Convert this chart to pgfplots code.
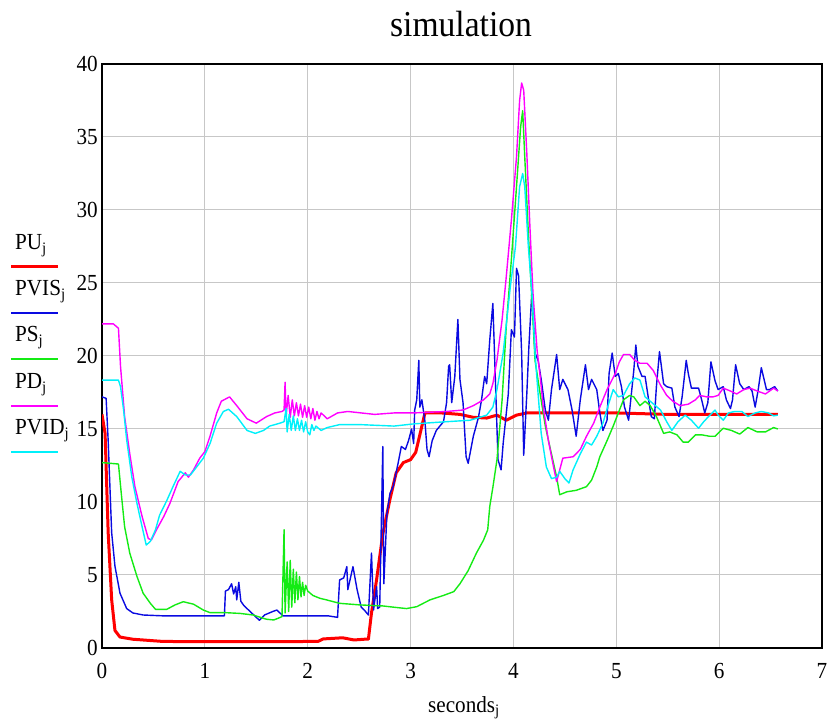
\documentclass[border=0pt]{standalone}
\usepackage{pgfplots}
\pgfplotsset{compat=1.18}
\usepackage{fontspec}
\setmainfont{Liberation Serif}[FakeStretch=0.92]
\definecolor{cPU}{RGB}{255,0,0}
\definecolor{cPVIS}{RGB}{10,10,225}
\definecolor{cPS}{RGB}{20,235,20}
\definecolor{cPD}{RGB}{255,0,255}
\definecolor{cPVID}{RGB}{0,240,250}
\newcommand{\sub}[1]{\raisebox{-3.5bp}{\fontsize{16bp}{16bp}\selectfont #1}}
\begin{document}
\begin{tikzpicture}
\useasboundingbox (0,0) rectangle (839bp,723bp);
\begin{axis}[
  at={(102bp,75bp)}, anchor=south west,
  scale only axis, width=720bp, height=584bp,
  xmin=0, xmax=7, ymin=0, ymax=40,
  xtick={0,1,...,7}, ytick={0,5,...,40},
  grid=major, major grid style={line width=1bp, draw=black!22},
  major tick length=0pt,
  axis line style={line width=1.8bp, black},
  /pgf/number format/assume math mode=true,
  tick label style={font=\fontsize{23bp}{26bp}\selectfont, inner sep=0pt},
  xticklabel style={yshift=-15bp},
  yticklabel style={xshift=-4bp},
  clip=true,
]
% PU
\addplot[cPU, line width=3bp, line join=round] coordinates {
(0,16.0) (0.03,14.7) (0.06,7.9) (0.094,3.3) (0.126,1.2) (0.175,0.75) (0.30,0.6) (0.59,0.45) (1.0,0.43) (1.5,0.43) (2.1,0.45) (2.15,0.62) (2.34,0.7) (2.45,0.55) (2.55,0.6) (2.59,0.6) (2.62,2.4) (2.67,4.7) (2.73,7.8) (2.80,10.2) (2.86,12.0) (2.93,12.7) (3.0,12.9) (3.05,13.4) (3.08,14.3) (3.11,15.2) (3.14,16.1) (3.3,16.1) (3.48,16.0) (3.61,15.8) (3.74,15.75) (3.84,15.95) (3.93,15.6) (4.03,15.95) (4.13,16.1) (5.0,16.1) (5.5,16.0) (6.0,16.0) (6.57,16.0)
};
% PVIS
\addplot[cPVIS, line width=1.4bp, line join=round] coordinates {
(0,17.2) (0.04,17.1) (0.06,14.2) (0.094,7.9) (0.126,5.6) (0.175,3.75) (0.24,2.7) (0.30,2.4) (0.40,2.26) (0.6,2.2) (1.19,2.2) (1.20,3.9) (1.23,4.0) (1.26,4.4) (1.28,3.7) (1.30,4.2) (1.31,3.3) (1.33,4.5) (1.35,3.2) (1.38,2.9) (1.44,2.5) (1.53,1.9) (1.58,2.26) (1.66,2.5) (1.70,2.6) (1.73,2.4) (1.76,2.2) (2.2,2.2) (2.29,2.1) (2.31,4.66) (2.35,4.8) (2.38,5.57) (2.39,4.0) (2.44,5.57) (2.48,4.0) (2.52,2.8) (2.55,2.6) (2.59,2.26) (2.62,6.5) (2.64,2.6) (2.67,4.2) (2.68,2.7) (2.70,2.8) (2.73,13.8) (2.74,4.4) (2.77,9.2) (2.80,10.6) (2.83,11.05) (2.85,11.7) (2.88,12.7) (2.91,13.8) (2.95,13.6) (2.98,14.2) (3.01,15.0) (3.03,14.0) (3.04,16.3) (3.06,17.0) (3.08,19.7) (3.09,16.5) (3.11,17.0) (3.14,15.5) (3.16,13.6) (3.18,13.1) (3.21,14.2) (3.25,14.9) (3.32,15.5) (3.35,16.8) (3.37,19.3) (3.38,19.4) (3.40,16.8) (3.43,18.6) (3.46,22.5) (3.48,18.4) (3.51,16.8) (3.54,13.1) (3.56,12.65) (3.61,14.5) (3.66,15.8) (3.69,17.0) (3.72,18.6) (3.74,18.1) (3.77,21.1) (3.80,23.6) (3.83,17.2) (3.85,12.9) (3.88,12.2) (3.90,14.0) (3.95,17.4) (3.98,21.8) (4.01,21.3) (4.03,26.0) (4.05,25.5) (4.08,20.2) (4.10,13.2) (4.13,17.4) (4.15,20.6) (4.18,24.5) (4.21,20.2) (4.24,19.7) (4.27,18.4) (4.31,16.3) (4.34,15.6) (4.37,17.7) (4.42,20.1) (4.45,17.7) (4.48,18.4) (4.53,17.7) (4.57,16.3) (4.61,14.5) (4.65,17.0) (4.70,19.4) (4.73,17.7) (4.76,18.4) (4.81,17.7) (4.84,16.1) (4.87,14.9) (4.91,15.6) (4.93,18.8) (4.96,20.2) (4.99,18.6) (5.02,18.8) (5.05,17.9) (5.08,16.5) (5.12,15.6) (5.17,19.0) (5.19,20.75) (5.21,19.3) (5.25,18.6) (5.28,18.6) (5.31,17.2) (5.34,15.85) (5.37,15.7) (5.39,17.9) (5.42,20.3) (5.46,18.1) (5.49,17.9) (5.54,17.8) (5.57,16.5) (5.61,15.85) (5.64,17.2) (5.68,19.7) (5.70,18.8) (5.73,17.8) (5.80,17.8) (5.83,17.0) (5.86,16.1) (5.89,16.8) (5.92,19.6) (5.96,18.3) (5.99,17.7) (6.04,17.9) (6.07,17.0) (6.11,16.4) (6.13,17.0) (6.16,19.4) (6.20,18.1) (6.24,17.7) (6.29,17.9) (6.32,17.6) (6.35,16.5) (6.38,17.7) (6.41,19.2) (6.46,17.7) (6.49,17.7) (6.54,17.9) (6.57,17.6)
};
% PS
\addplot[cPS, line width=1.4bp, line join=round] coordinates {
(0,12.7) (0.16,12.6) (0.19,10.4) (0.22,8.3) (0.27,6.5) (0.34,4.9) (0.40,3.75) (0.47,3.06) (0.52,2.65) (0.63,2.65) (0.71,2.95) (0.79,3.17) (0.89,3.0) (0.985,2.6) (1.05,2.42) (1.20,2.42) (1.34,2.37) (1.47,2.26) (1.57,2.03) (1.60,1.97) (1.67,1.92) (1.71,2.03) (1.75,2.15) (1.77,8.1) (1.78,2.4) (1.80,5.9) (1.815,2.5) (1.83,6.0) (1.845,2.8) (1.86,5.4) (1.875,3.1) (1.89,5.2) (1.905,3.3) (1.92,4.9) (1.935,3.5) (1.95,4.5) (1.965,3.6) (1.98,4.3) (2.0,3.9) (2.05,3.6) (2.12,3.4) (2.18,3.3) (2.31,3.06) (2.51,2.95) (2.73,2.88) (2.83,2.8) (2.96,2.7) (3.06,2.83) (3.19,3.3) (3.32,3.6) (3.42,3.86) (3.48,4.4) (3.56,5.3) (3.64,6.5) (3.71,7.4) (3.75,8.1) (3.77,9.7) (3.80,11.0) (3.84,12.9) (3.89,17.0) (3.93,22.0) (3.98,26.6) (4.03,31.6) (4.07,35.7) (4.09,36.8) (4.11,33.65) (4.145,28.4) (4.18,23.8) (4.21,19.7) (4.26,17.4) (4.31,15.2) (4.36,13.6) (4.42,11.7) (4.45,10.5) (4.52,10.7) (4.61,10.8) (4.71,11.05) (4.76,11.5) (4.81,12.4) (4.84,13.1) (4.91,14.2) (4.97,15.2) (5.02,16.1) (5.07,17.0) (5.13,17.3) (5.17,17.2) (5.23,16.6) (5.28,16.9) (5.33,16.6) (5.39,15.85) (5.46,14.7) (5.52,14.8) (5.59,14.6) (5.65,14.1) (5.70,14.1) (5.77,14.6) (5.83,14.6) (5.91,14.5) (5.96,14.5) (6.04,15.05) (6.12,14.9) (6.20,14.65) (6.28,15.1) (6.37,14.8) (6.45,14.8) (6.53,15.1) (6.57,15.0)
};
% PD
\addplot[cPD, line width=1.4bp, line join=round] coordinates {
(0,22.2) (0.11,22.2) (0.16,21.9) (0.18,19.3) (0.22,15.85) (0.27,13.3) (0.32,11.05) (0.39,9.0) (0.45,7.5) (0.48,7.4) (0.53,8.1) (0.60,9.0) (0.66,9.9) (0.74,11.4) (0.81,12.0) (0.84,11.7) (0.89,12.2) (0.95,13.0) (1.0,13.45) (1.05,14.5) (1.115,16.1) (1.16,16.9) (1.24,17.2) (1.31,16.6) (1.41,15.7) (1.50,15.4) (1.60,15.85) (1.68,16.1) (1.75,16.2) (1.77,16.3) (1.78,18.2) (1.79,15.9) (1.81,17.3) (1.83,15.8) (1.85,17.0) (1.87,15.9) (1.89,16.8) (1.91,15.9) (1.93,16.7) (1.95,15.8) (1.97,16.6) (1.99,15.8) (2.01,16.5) (2.03,15.7) (2.05,16.4) (2.07,15.6) (2.09,16.2) (2.11,15.7) (2.13,16.1) (2.19,15.7) (2.29,16.1) (2.39,16.2) (2.52,16.1) (2.65,16.0) (2.84,16.1) (3.03,16.1) (3.35,16.2) (3.51,16.3) (3.61,16.6) (3.71,17.0) (3.77,17.4) (3.80,18.1) (3.84,19.7) (3.89,22.5) (3.93,25.4) (3.98,29.3) (4.03,33.65) (4.06,37.5) (4.08,38.7) (4.10,38.2) (4.13,33.9) (4.16,28.9) (4.19,24.3) (4.23,20.4) (4.26,18.6) (4.29,16.5) (4.34,14.2) (4.39,12.4) (4.42,11.4) (4.45,12.2) (4.48,13.0) (4.58,13.1) (4.65,13.6) (4.71,14.5) (4.78,15.4) (4.84,16.5) (4.91,17.7) (4.99,18.8) (5.03,19.6) (5.07,20.1) (5.13,20.1) (5.18,19.7) (5.23,19.5) (5.30,19.5) (5.36,19.0) (5.43,18.0) (5.49,17.3) (5.55,16.9) (5.62,16.6) (5.70,16.7) (5.77,17.0) (5.81,17.3) (5.88,17.2) (5.94,17.2) (5.99,17.3) (6.04,17.8) (6.11,17.6) (6.17,17.4) (6.24,17.7) (6.30,17.8) (6.37,17.6) (6.45,17.4) (6.53,17.8) (6.57,17.6)
};
% PVID
\addplot[cPVID, line width=1.4bp, line join=round] coordinates {
(0,18.35) (0.16,18.35) (0.18,17.9) (0.21,16.3) (0.24,14.25) (0.29,11.7) (0.34,9.9) (0.39,8.3) (0.43,7.05) (0.47,7.3) (0.52,8.1) (0.56,9.1) (0.63,10.1) (0.69,11.05) (0.76,12.1) (0.81,11.85) (0.86,11.85) (0.92,12.4) (0.985,13.0) (1.05,14.0) (1.115,15.4) (1.18,16.2) (1.23,16.35) (1.31,15.85) (1.41,14.9) (1.49,14.7) (1.57,14.9) (1.63,15.2) (1.73,15.4) (1.77,15.5) (1.79,16.4) (1.80,14.8) (1.82,16.0) (1.84,14.9) (1.86,15.9) (1.88,14.9) (1.90,15.7) (1.92,14.9) (1.94,15.6) (1.96,14.8) (1.98,15.5) (2.00,14.8) (2.02,14.6) (2.04,15.3) (2.06,14.9) (2.08,15.2) (2.13,14.9) (2.19,15.1) (2.31,15.3) (2.51,15.3) (2.84,15.2) (3.03,15.35) (3.35,15.5) (3.58,15.6) (3.74,15.95) (3.80,16.5) (3.84,17.7) (3.90,20.2) (3.97,24.75) (4.02,27.5) (4.06,31.6) (4.09,32.5) (4.11,31.6) (4.145,27.5) (4.18,24.3) (4.21,20.2) (4.24,17.4) (4.27,14.7) (4.32,12.4) (4.37,11.6) (4.42,11.7) (4.45,12.1) (4.50,11.6) (4.54,11.3) (4.58,12.2) (4.65,13.3) (4.71,14.1) (4.76,13.9) (4.81,14.5) (4.87,15.4) (4.92,16.6) (4.97,17.7) (5.02,17.2) (5.07,17.3) (5.13,18.1) (5.18,18.5) (5.23,18.35) (5.28,17.2) (5.33,16.9) (5.38,16.6) (5.43,16.3) (5.49,15.5) (5.54,14.9) (5.60,15.5) (5.67,15.95) (5.73,15.6) (5.80,15.05) (5.85,15.5) (5.91,15.95) (5.96,16.3) (5.99,15.95) (6.04,15.6) (6.09,16.1) (6.15,16.2) (6.22,16.2) (6.28,15.85) (6.35,16.1) (6.41,16.2) (6.48,16.1) (6.53,15.9) (6.57,15.95)
};
\end{axis}
% title and axis label
\node[anchor=base, font=\fontsize{36.5bp}{40bp}\selectfont, inner sep=0] at (461bp,686bp) {simulation};
\node[anchor=base west, font=\fontsize{23bp}{26bp}\selectfont, inner sep=0] at (428bp,11bp) {seconds\sub{j}};
% legend
\begin{scope}[font=\fontsize{23bp}{26bp}\selectfont]
\node[anchor=base west, inner sep=0] at (15bp,473bp) {PU\sub{j}};
\draw[cPU, line width=3bp] (11bp,456bp) -- (58bp,456bp);
\node[anchor=base west, inner sep=0] at (15bp,427bp) {PVIS\sub{j}};
\draw[cPVIS, line width=1.8bp] (11bp,410bp) -- (58bp,410bp);
\node[anchor=base west, inner sep=0] at (15bp,381bp) {PS\sub{j}};
\draw[cPS, line width=1.8bp] (11bp,364bp) -- (58bp,364bp);
\node[anchor=base west, inner sep=0] at (15bp,334bp) {PD\sub{j}};
\draw[cPD, line width=1.8bp] (11bp,317bp) -- (58bp,317bp);
\node[anchor=base west, inner sep=0] at (15bp,288bp) {PVID\sub{j}};
\draw[cPVID, line width=1.8bp] (11bp,271bp) -- (58bp,271bp);
\end{scope}
\end{tikzpicture}
\end{document}
